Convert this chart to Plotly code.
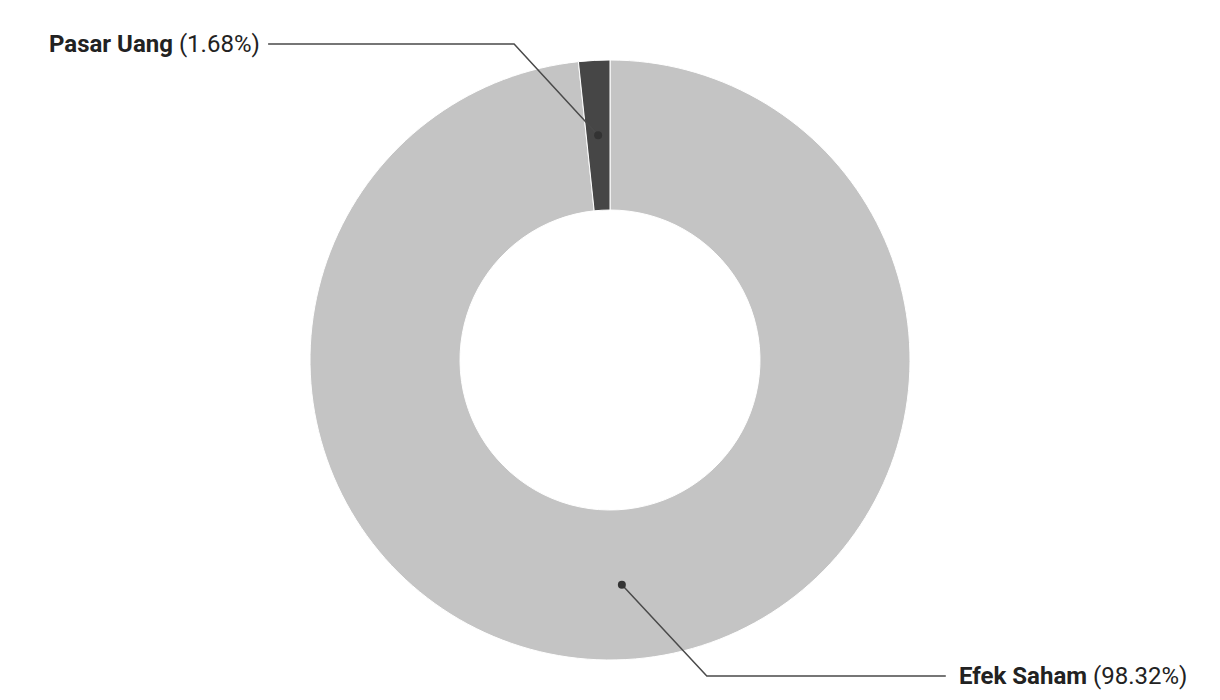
import plotly.graph_objects as go
import numpy as np

# Data
labels = ["Efek Saham", "Pasar Uang"]
values = [98.32, 1.68]
colors = ["#c4c4c4", "#464646"]

# the page puts the plot 8px in from the top-left corner
OFF = 8
W, H = 1220 - OFF, 700 - OFF
cx, cy, R = 610 - OFF, 360 - OFF, 300   # donut centre and outer radius in pixels
hole = 0.5

fig = go.Figure()

fig.add_trace(go.Pie(
    labels=labels, values=values, sort=False, direction="clockwise",
    rotation=0, hole=hole, textinfo="none", hoverinfo="label+percent",
    marker=dict(colors=colors, line=dict(color="white", width=1)),
    domain=dict(x=[(cx - R) / W, (cx + R) / W], y=[(H - cy - R) / H, (H - cy + R) / H]),
    showlegend=False,
))

# leader lines: dot in middle of the ring at the slice's mid angle
total = sum(values)
cum = np.cumsum([0] + values[:-1])
r_mid = R * (1 + hole) / 2
shapes, annotations = [], []
for lab, v, c0 in zip(labels, values, cum):
    frac = (c0 + v / 2) / total
    ang = 2 * np.pi * frac   # clockwise from 12 o'clock
    px, py = cx + np.sin(ang) * r_mid, cy - np.cos(ang) * r_mid
    if py < cy:
        ey = 44 - OFF
        ex = px - (py - ey) * 0.92
        hx = ex - 246
        anchor, tx = "right", hx - 6
    else:
        ey = 676 - OFF
        ex = px + (ey - py) * 0.93
        hx = ex + 239
        anchor, tx = "left", hx + 11
    shapes.append(dict(
        type="path", xref="x", yref="y", layer="above",
        path="M %.1f %.1f L %.1f %.1f L %.1f %.1f" % (px, py, ex, ey, hx, ey),
        line=dict(color="#4a4a4a", width=1.5),
    ))
    shapes.append(dict(
        type="circle", xref="x", yref="y", layer="above",
        x0=px - 4, x1=px + 4, y0=py - 4, y1=py + 4,
        fillcolor="#333333", line=dict(width=0),
    ))
    annotations.append(dict(
        x=tx, y=ey, xref="x", yref="y", showarrow=False, xanchor=anchor, yanchor="middle",
        text="<b>%s</b> (%.2f%%)" % (lab, v * 100 / total),
        font=dict(family="Roboto", size=24, color="#222222"),
    ))

fig.update_layout(
    width=W, height=H,
    margin=dict(l=0, r=0, t=0, b=0),
    paper_bgcolor="white", plot_bgcolor="rgba(0,0,0,0)",
    xaxis=dict(range=[0, W], visible=False, fixedrange=True),
    yaxis=dict(range=[H, 0], visible=False, fixedrange=True),
    shapes=shapes,
    annotations=annotations,
    font=dict(family="Roboto"),
)

fig.write_html("out.html")
